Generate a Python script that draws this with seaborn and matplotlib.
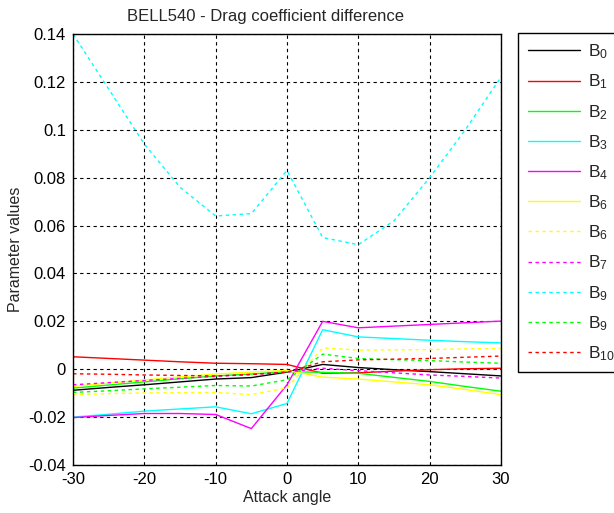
import matplotlib
matplotlib.use("Agg")
import matplotlib.pyplot as plt
import seaborn as sns
import numpy as np

angles = [-30, -25, -20, -15, -10, -5, 0, 5, 10, 15, 20, 25, 30]

b0 = [-0.0088, -0.0076, -0.0065, -0.0053, -0.0041, -0.0035, -0.0012, 0.0020, 0.0007, -0.0002, -0.0010, -0.0019, -0.0028]
b1 = [0.0052, 0.0045, 0.0038, 0.0031, 0.0025, 0.0023, 0.0020, -0.0017, -0.0015, -0.0008, -0.0002, 0.0002, 0.0004]
b2 = [-0.0079, -0.0066, -0.0053, -0.0040, -0.0028, -0.0020, -0.0010, -0.0013, -0.0017, -0.0034, -0.0051, -0.0072, -0.0092]
b3 = [-0.0200, -0.0188, -0.0175, -0.0166, -0.0157, -0.0186, -0.0143, 0.0165, 0.0135, 0.0128, 0.0121, 0.0115, 0.0110]
b4 = [-0.0202, -0.0193, -0.0185, -0.0185, -0.0189, -0.0248, -0.0065, 0.0200, 0.0173, 0.0180, 0.0187, 0.0194, 0.0201]
b6a = [-0.0072, -0.0058, -0.0045, -0.0032, -0.0020, -0.0012, -0.0005, -0.0033, -0.0041, -0.0053, -0.0065, -0.0085, -0.0106]
b6b = [-0.0106, -0.0102, -0.0099, -0.0098, -0.0097, -0.0106, -0.0078, 0.0089, 0.0080, 0.0081, 0.0082, 0.0085, 0.0087]
b7 = [-0.0065, -0.0056, -0.0047, -0.0038, -0.0030, -0.0022, -0.0012, 0.0004, -0.0006, -0.0015, -0.0024, -0.0030, -0.0037]
b9a = [0.140, 0.117, 0.094, 0.076, 0.064, 0.065, 0.083, 0.055, 0.052, 0.062, 0.080, 0.100, 0.122]
b9b = [-0.0097, -0.0090, -0.0082, -0.0075, -0.0068, -0.0070, -0.0044, 0.0063, 0.0045, 0.0040, 0.0036, 0.0030, 0.0025]
b10 = [-0.0019, -0.0021, -0.0024, -0.0026, -0.0028, -0.0022, -0.0012, 0.0031, 0.0039, 0.0042, 0.0045, 0.0050, 0.0055]

labels = ["$B_{0}$", "$B_{1}$", "$B_{2}$", "$B_{3}$", "$B_{4}$", "$B_{6}$",
          "$B_{6}$", "$B_{7}$", "$B_{9}$", "$B_{9}$", "$B_{10}$"]
series = [b0, b1, b2, b3, b4, b6a, b6b, b7, b9a, b9b, b10]
colors = ["#000000", "#ff0000", "#00ff00", "#00ffff", "#ff00ff", "#ffff00",
          "#ffff00", "#ff00ff", "#00ffff", "#00ff00", "#ff0000"]
styles = ["-", "-", "-", "-", "-", "-", ":", ":", ":", ":", ":"]

sns.set_style("white")
plt.rcParams['font.family'] = ['Liberation Sans', 'DejaVu Sans']
plt.rcParams['mathtext.fontset'] = 'custom'
plt.rcParams['mathtext.rm'] = 'Liberation Sans'
plt.rcParams['mathtext.it'] = 'Liberation Sans'
plt.rcParams['axes.unicode_minus'] = False

fig = plt.figure(figsize=(6.14, 5.13), dpi=100)
ax = fig.add_axes([73/614, 48/513, 428/614, 431/513])

for vals, lab, col, ls in zip(series, labels, colors, styles):
    dash = (0, (2.5, 2.5)) if ls == ":" else "-"
    sns.lineplot(x=angles, y=vals, ax=ax, color=col, linestyle=dash,
                 linewidth=1.0, label=lab, legend=False)

ax.set_xlim(-30, 30)
ax.set_ylim(-0.04, 0.14)
ax.set_xticks([-30, -20, -10, 0, 10, 20, 30])
ax.set_yticks([-0.04, -0.02, 0, 0.02, 0.04, 0.06, 0.08, 0.1, 0.12, 0.14])
ax.set_yticklabels(["-0.04", "-0.02", "0", "0.02", "0.04", "0.06", "0.08", "0.1", "0.12", "0.14"])
ax.grid(True, color="black", linestyle=(0, (3, 3)), linewidth=0.8)
ax.tick_params(direction="in", labelsize=12, length=4, colors="black", pad=5)
for s in ax.spines.values():
    s.set_visible(True)
    s.set_color("black")
    s.set_linewidth(1.0)

fig.text(265.5/614, 1 - 17/513, "BELL540 - Drag coefficient difference",
         ha="center", va="center", fontsize=12)
ax.set_xlabel("Attack angle", fontsize=11.5, labelpad=2)
ax.set_ylabel("Parameter values", fontsize=11.5, labelpad=4)

handles, labs = ax.get_legend_handles_labels()
leg = fig.legend(handles, labs, loc="upper left",
                 bbox_to_anchor=(518/614, 1 - 33/513), borderaxespad=0,
                 fontsize=12.5, frameon=True, fancybox=False, framealpha=1,
                 edgecolor="black", handlelength=3.0, handletextpad=0.5,
                 labelspacing=0.66, borderpad=0.55)
leg.get_frame().set_linewidth(1.0)

fig.savefig("out.png", dpi=100)
